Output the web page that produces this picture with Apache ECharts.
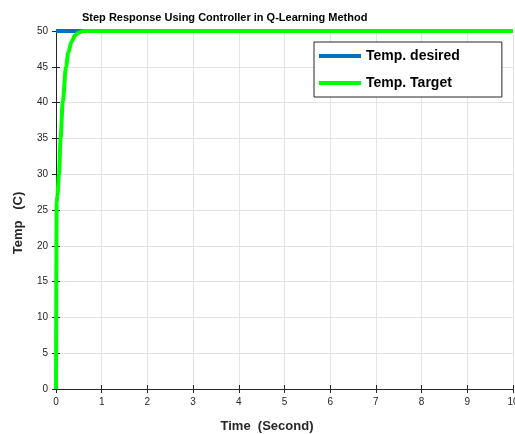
<!DOCTYPE html>
<html>
<head>
<meta charset="utf-8">
<script src="https://cdn.jsdelivr.net/npm/echarts@6/dist/echarts.min.js"></script>
<style>html,body{margin:0;padding:0;background:#fff}#c{width:515px;height:434px}</style>
</head>
<body>
<div id="c"></div>
<script>
var titleText = 'Step Response Using Controller in Q-Learning Method';
var xName = 'Time  (Second)';
var yName = 'Temp   (C)';
var seriesNames = ['Temp. desired', 'Temp. Target'];
var desiredTime = [0, 10];
var desiredTemp = [50, 50];
var targetTime = [0, 0.01, 0.015, 0.03, 0.066, 0.1, 0.147, 0.22, 0.27, 0.34, 0.42, 0.5, 0.6, 10];
var targetTemp = [0, 0, 26, 27, 30, 35, 40, 45, 47, 48.5, 49.4, 49.8, 50, 50];

function pairs(xs, ys) { return xs.map(function (x, i) { return [x, ys[i]]; }); }

var axisColor = '#262626';
var chart = echarts.init(document.getElementById('c'), null, {renderer: 'canvas'});
chart.setOption({
  animation: false,
  backgroundColor: '#ffffff',
  title: {
    text: titleText,
    left: 77, top: 7,
    textStyle: {fontFamily: 'Liberation Sans, Arial', fontSize: 11, fontWeight: 'bold', color: '#000'}
  },
  legend: {
    orient: 'vertical',
    left: 314, top: 42,
    padding: [7, 42, 7, 5],
    itemGap: 13,
    itemWidth: 42, itemHeight: 4,
    icon: 'rect',
    borderColor: axisColor, borderWidth: 1,
    backgroundColor: '#fff',
    textStyle: {fontFamily: 'Liberation Sans, Arial', fontSize: 14, fontWeight: 'bold', color: '#000'},
    data: seriesNames
  },
  grid: {left: 56, right: 2, top: 31, bottom: 45, containLabel: false, outerBoundsMode: 'none'},
  xAxis: [{
    type: 'value', min: 0, max: 10, interval: 1,
    name: xName, nameLocation: 'middle', nameGap: 31,
    nameTextStyle: {fontFamily: 'Liberation Sans, Arial', fontSize: 13, fontWeight: 'bold', color: axisColor, padding: [0, 35, 0, 0]},
    axisLine: {show: true, lineStyle: {color: axisColor, width: 1}},
    axisTick: {show: true, inside: true, length: 4, lineStyle: {color: axisColor}},
    axisLabel: {fontFamily: 'Liberation Sans, Arial', fontSize: 10, color: axisColor, margin: 8},
    splitLine: {show: true, lineStyle: {color: '#e3e3e3', width: 1}}
  }, {
    type: 'value', min: 0, max: 10, interval: 1, position: 'top',
    axisLine: {show: true, lineStyle: {color: axisColor, width: 1}},
    axisTick: {show: true, inside: true, length: 4, lineStyle: {color: axisColor}},
    axisLabel: {show: false}, splitLine: {show: false}
  }],
  yAxis: [{
    type: 'value', min: 0, max: 50, interval: 5,
    name: yName, nameLocation: 'middle', nameGap: 31, nameRotate: 90,
    nameTextStyle: {fontFamily: 'Liberation Sans, Arial', fontSize: 13, fontWeight: 'bold', color: axisColor, padding: [0, 26, 0, 0]},
    axisLine: {show: true, lineStyle: {color: axisColor, width: 1}},
    axisTick: {show: true, inside: true, length: 4, lineStyle: {color: axisColor}},
    axisLabel: {fontFamily: 'Liberation Sans, Arial', fontSize: 10, color: axisColor, margin: 8},
    splitLine: {show: true, lineStyle: {color: '#e3e3e3', width: 1}}
  }, {
    type: 'value', min: 0, max: 50, interval: 5, position: 'right',
    axisLine: {show: true, lineStyle: {color: axisColor, width: 1}},
    axisTick: {show: true, inside: true, length: 4, lineStyle: {color: axisColor}},
    axisLabel: {show: false}, splitLine: {show: false}
  }],
  series: [{
    name: seriesNames[0], type: 'line', showSymbol: false,
    color: '#0072BD',
    lineStyle: {width: 4, color: '#0072BD'},
    data: pairs(desiredTime, desiredTemp)
  }, {
    name: seriesNames[1], type: 'line', showSymbol: false,
    color: '#00FF00',
    smooth: 0.3, smoothMonotone: 'x',
    lineStyle: {width: 4, color: '#00FF00'},
    data: pairs(targetTime, targetTemp)
  }]
});
</script>
</body>
</html>
